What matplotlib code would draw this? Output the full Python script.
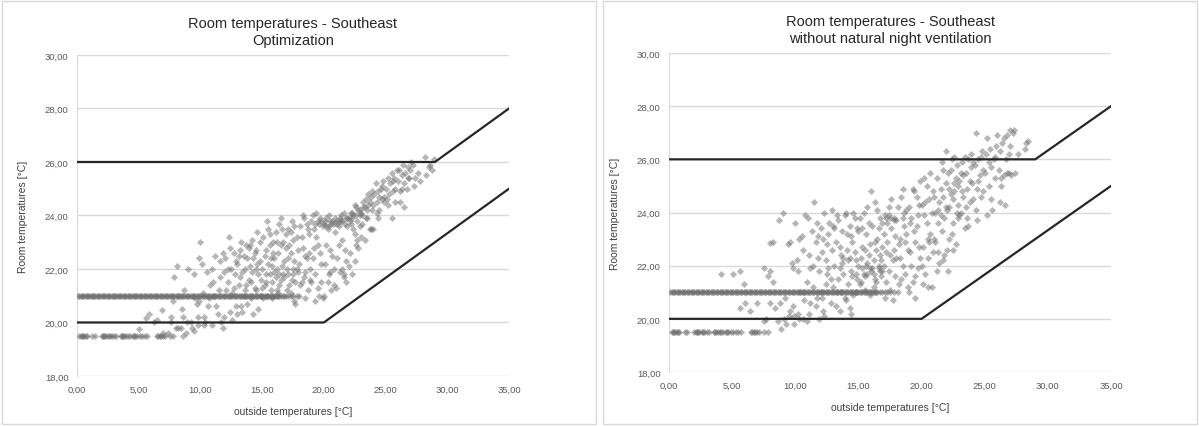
import matplotlib
matplotlib.use('Agg')
import matplotlib.pyplot as plt
from matplotlib.patches import Rectangle
from matplotlib.ticker import FuncFormatter

plt.rcParams['font.family'] = ['Liberation Sans', 'DejaVu Sans']

# comfort band limits
lower_x = [0, 20, 35]
lower_y = [20, 20, 25]
upper_x = [0, 29, 35]
upper_y = [26, 26, 28]

# dense rows of points (night setpoints)
row21_x = [0.1, 0.2, 0.3, 0.4, 0.5, 0.6, 0.7, 0.8, 0.9, 1.0, 1.1, 1.2, 1.3, 1.4, 1.5, 1.6,
           1.7, 1.8, 1.9, 2.0, 2.1, 2.2, 2.3, 2.4, 2.5, 2.6, 2.7, 2.8, 2.9, 3.0, 3.1, 3.2,
           3.3, 3.4, 3.5, 3.6, 3.7, 3.8, 3.9, 4.0, 4.1, 4.2, 4.3, 4.4, 4.5, 4.6, 4.7, 4.8,
           4.9, 5.0, 5.1, 5.2, 5.3, 5.4, 5.5, 5.6, 5.7, 5.8, 5.9, 6.0, 6.1, 6.2, 6.3, 6.4,
           6.5, 6.6, 6.7, 6.8, 6.9, 7.0, 7.1, 7.2, 7.3, 7.4, 7.5, 7.6, 7.7, 7.8, 7.9, 8.0,
           8.1, 8.2, 8.3, 8.4, 8.5, 8.6, 8.7, 8.8, 8.9, 9.0, 9.1, 9.2, 9.3, 9.4, 9.5, 9.6,
           9.7, 9.8, 9.9, 10.0, 10.1, 10.2, 10.3, 10.4, 10.5, 10.6, 10.7, 10.8, 10.9, 11.0,
           11.1, 11.2, 11.3, 11.4, 11.5, 11.6, 11.7, 11.8, 11.9, 12.0, 12.1, 12.2, 12.3,
           12.4, 12.5, 12.6, 12.7, 12.8, 12.9, 13.0, 13.1, 13.2, 13.3, 13.4, 13.5, 13.6,
           13.7, 13.8, 13.9, 14.0, 14.1, 14.2, 14.3, 14.4, 14.5, 14.6, 14.7, 14.8, 14.9,
           15.0, 15.1, 15.2, 15.3, 15.4, 15.5, 15.6, 15.7, 15.8, 15.9, 16.0, 16.1, 16.2,
           16.3, 16.4, 16.5, 16.7, 16.9, 17.1, 17.3, 17.5, 17.8]
row195_x = [0.2, 0.3, 0.4, 0.5, 0.6, 0.7, 0.8, 1.25, 1.45, 2.0, 2.1, 2.2, 2.3, 2.4, 2.6,
            2.7, 2.8, 3.0, 3.2, 3.55, 3.65, 3.75, 3.85, 4.0, 4.15, 4.3, 4.5, 4.6, 4.7,
            4.9, 5.1, 5.3, 5.5, 5.7, 6.5, 6.6, 6.7, 6.8, 6.95, 7.1, 7.5, 7.8]

# Optimization: remaining points (outside temp, room temp)
opt_pts = [
    (5.0, 19.75), (5.6, 20.15), (5.8, 20.3), (6.2, 20.0), (6.5, 20.1), (6.9, 20.45), (7.0, 19.6),
    (7.4, 19.6), (7.6, 20.0), (7.8, 20.8), (7.9, 21.7), (8.0, 19.8), (7.6, 20.2),
    (8.1, 22.1), (8.3, 21.0), (8.4, 19.8), (8.5, 20.5), (8.6, 20.2), (8.7, 21.2), (8.8, 19.6),
    (8.9, 20.0), (8.6, 19.5), (8.2, 19.8),
    (9.0, 22.0), (9.2, 20.0), (9.3, 19.8), (9.5, 21.8), (9.6, 20.9), (9.8, 20.2), (9.9, 22.4),
    (9.5, 19.7), (9.8, 19.9), (9.9, 20.8), (9.7, 20.7),
    (10.0, 23.0), (10.1, 22.2), (10.2, 21.1), (10.3, 20.2), (10.5, 21.9), (10.6, 20.6), (10.3, 19.9),
    (10.8, 21.4), (10.9, 19.9), (10.4, 20.0), (10.7, 20.9), (10.9, 22.0),
    (11.0, 21.5), (11.2, 22.5), (11.3, 20.6), (11.5, 21.2), (11.6, 22.3), (11.7, 20.0), (11.8, 19.8),
    (11.9, 21.9), (11.4, 20.3), (11.9, 20.2), (11.1, 21.0), (11.6, 21.7), (11.8, 22.6),
    (12.0, 22.4), (12.2, 21.5), (12.3, 23.2), (12.4, 20.4), (12.5, 22.0), (12.6, 21.1), (12.7, 22.6),
    (12.8, 21.8), (12.9, 20.6), (12.1, 21.2), (12.4, 22.8), (12.6, 20.1), (12.9, 22.3), (12.2, 22.0),
    (12.7, 21.3),
    (13.0, 22.2), (13.1, 21.4), (13.2, 22.7), (13.3, 20.6), (13.4, 21.9), (13.5, 22.5), (13.6, 21.2),
    (13.7, 22.9), (13.8, 20.7), (13.9, 21.6), (13.0, 20.3), (13.3, 23.0), (13.5, 21.0), (13.8, 22.4),
    (13.2, 21.7), (13.6, 22.0), (13.9, 22.8), (13.4, 20.4), (13.1, 22.5), (13.7, 21.4),
    (14.0, 22.1), (14.1, 21.5), (14.2, 23.1), (14.3, 20.3), (14.4, 22.6), (14.5, 21.2), (14.6, 23.4),
    (14.7, 21.8), (14.8, 22.3), (14.9, 21.0), (14.0, 22.9), (14.2, 21.9), (14.4, 21.3), (14.6, 22.2),
    (14.8, 23.0), (14.3, 22.4), (14.7, 20.5), (14.5, 22.7), (14.9, 21.6), (14.1, 20.9), (14.5, 22.0),
    (15.0, 22.0), (15.1, 23.2), (15.2, 21.4), (15.3, 22.7), (15.4, 21.0), (15.5, 23.5), (15.6, 21.8),
    (15.7, 22.4), (15.8, 20.9), (15.9, 23.0), (15.0, 21.3), (15.2, 22.5), (15.4, 23.8), (15.6, 22.9),
    (15.8, 21.5), (15.1, 20.9), (15.3, 21.8), (15.5, 22.2), (15.7, 21.2), (15.9, 22.6), (15.6, 23.3),
    (15.3, 21.5), (15.8, 22.1),
    (16.0, 21.9), (16.1, 23.4), (16.2, 21.2), (16.3, 22.6), (16.4, 23.7), (16.5, 21.6), (16.6, 22.1),
    (16.7, 23.0), (16.8, 21.0), (16.9, 22.8), (16.0, 22.4), (16.2, 23.0), (16.4, 21.4), (16.6, 23.5),
    (16.8, 22.3), (16.1, 21.7), (16.3, 21.1), (16.5, 22.9), (16.7, 21.8), (16.9, 23.3), (16.5, 23.9),
    (16.2, 22.0), (16.4, 21.8), (16.8, 21.7),
    (17.0, 22.0), (17.1, 23.5), (17.2, 21.4), (17.3, 22.6), (17.4, 23.8), (17.5, 21.8), (17.6, 22.3),
    (17.7, 20.7), (17.8, 23.2), (17.9, 21.9), (17.0, 21.2), (17.2, 22.9), (17.4, 21.6), (17.6, 23.6),
    (17.8, 22.0), (17.1, 22.4), (17.3, 21.1), (17.5, 23.1), (17.7, 21.5), (17.9, 22.7), (17.6, 20.8),
    (17.3, 23.4), (17.1, 21.8), (17.5, 22.0),
    (18.0, 22.2), (18.1, 23.6), (18.2, 21.5), (18.3, 22.8), (18.4, 23.9), (18.5, 21.9), (18.6, 22.4),
    (18.7, 21.2), (18.8, 23.3), (18.9, 22.0), (18.0, 21.0), (18.2, 23.2), (18.4, 21.7), (18.6, 23.7),
    (18.8, 22.6), (18.1, 21.4), (18.3, 24.0), (18.5, 22.5), (18.7, 23.5), (18.9, 21.6), (18.5, 20.9),
    (19.0, 23.8), (19.1, 22.4), (19.2, 23.5), (19.3, 21.8), (19.4, 24.1), (19.5, 22.9), (19.6, 21.0),
    (19.7, 23.9), (19.8, 22.2), (19.9, 20.9), (19.0, 21.5), (19.2, 22.8), (19.4, 23.2), (19.6, 23.7),
    (19.8, 21.5), (19.1, 24.0), (19.3, 20.8), (19.5, 23.8), (19.7, 22.6), (19.9, 23.6), (19.5, 21.3),
    (19.3, 23.7), (19.8, 23.8),
    (20.0, 23.7), (20.1, 22.2), (20.2, 23.9), (20.3, 21.5), (20.4, 23.6), (20.5, 22.7), (20.6, 21.2),
    (20.7, 23.8), (20.8, 22.0), (20.9, 23.4), (20.0, 21.0), (20.2, 22.9), (20.4, 24.0), (20.6, 23.7),
    (20.8, 21.4), (20.1, 23.8), (20.3, 23.5), (20.5, 21.9), (20.7, 22.5), (20.9, 23.9), (20.4, 21.8),
    (20.5, 23.8), (20.8, 23.7), (20.2, 23.6),
    (21.0, 23.8), (21.1, 22.4), (21.2, 23.6), (21.3, 21.9), (21.4, 24.0), (21.5, 23.1), (21.6, 21.7),
    (21.7, 23.7), (21.8, 22.3), (21.9, 23.9), (21.0, 21.3), (21.2, 22.9), (21.4, 23.8), (21.6, 24.1),
    (21.8, 21.5), (21.1, 23.7), (21.3, 23.9), (21.5, 22.0), (21.7, 22.7), (21.9, 23.6), (21.6, 21.8),
    (21.5, 23.8), (21.8, 23.9), (21.2, 23.8),
    (22.0, 23.9), (22.1, 22.6), (22.2, 23.7), (22.3, 21.8), (22.4, 24.0), (22.5, 23.3), (22.6, 22.9),
    (22.7, 23.8), (22.8, 24.2), (22.9, 23.6), (22.0, 22.1), (22.2, 24.1), (22.4, 23.5), (22.6, 24.3),
    (22.8, 22.8), (22.1, 23.8), (22.3, 23.9), (22.5, 24.4), (22.7, 23.1), (22.9, 24.0), (22.5, 22.3),
    (22.3, 24.1), (22.6, 24.0), (22.9, 24.2),
    (23.0, 24.1), (23.1, 23.7), (23.2, 24.3), (23.3, 23.1), (23.4, 24.6), (23.5, 23.9), (23.6, 24.4),
    (23.7, 23.5), (23.8, 24.7), (23.9, 24.2), (23.0, 23.2), (23.2, 24.5), (23.4, 23.9), (23.6, 24.8),
    (23.8, 23.5), (23.1, 24.0), (23.5, 24.2), (23.7, 24.5), (23.9, 24.9), (23.3, 24.3),
    (24.0, 24.4), (24.1, 24.8), (24.2, 25.2), (24.3, 24.5), (24.4, 24.9), (24.5, 24.2), (24.6, 25.0),
    (24.7, 24.6), (24.8, 25.3), (24.9, 24.7), (24.0, 23.5), (24.3, 24.1), (24.5, 24.7), (24.7, 25.1),
    (24.9, 24.5), (24.4, 23.9),
    (25.0, 25.0), (25.1, 24.6), (25.2, 25.4), (25.3, 24.8), (25.4, 25.2), (25.5, 25.6), (25.6, 24.9),
    (25.7, 25.4), (25.8, 25.0), (25.9, 25.7), (25.2, 24.4), (25.5, 23.9), (25.8, 24.5), (25.6, 25.3),
    (26.0, 25.3), (26.1, 25.7), (26.2, 24.9), (26.3, 25.5), (26.4, 25.9), (26.5, 25.2), (26.6, 25.6),
    (26.7, 25.0), (26.8, 25.8), (26.9, 25.4), (26.2, 24.5), (26.5, 24.3), (26.8, 25.4), (26.3, 25.0),
    (27.0, 25.7), (27.2, 25.9), (27.4, 25.4), (27.6, 25.6), (27.8, 25.3), (27.1, 26.0), (27.3, 25.1),
    (28.2, 26.2), (28.3, 25.5), (28.6, 25.9), (28.8, 25.7), (28.9, 26.1), (28.5, 25.8),
]

# without natural night ventilation: remaining points
nonv_pts = [
    (4.1, 21.7), (5.1, 21.7), (5.6, 21.8), (5.9, 21.3), (5.6, 20.4), (6.0, 20.6), (6.4, 20.3),
    (7.0, 20.6), (7.5, 21.9), (7.8, 21.6), (8.0, 21.8), (8.2, 21.4), (8.0, 22.85), (8.2, 22.9),
    (7.7, 20.0), (7.5, 19.9), (8.0, 20.6), (8.4, 20.4), (8.6, 19.9),
    (8.7, 23.7), (9.0, 24.0), (9.4, 22.8), (9.6, 22.9), (9.7, 22.1), (9.8, 21.9), (8.8, 20.6),
    (8.9, 19.6), (9.1, 20.0), (9.3, 19.8), (9.5, 20.1), (9.6, 20.3), (9.8, 20.5), (9.9, 19.8),
    (9.2, 20.8), (9.9, 20.1),
    (10.0, 23.6), (10.1, 22.2), (10.2, 20.2), (10.3, 20.0), (10.4, 21.0), (10.5, 23.1), (10.6, 22.6),
    (10.7, 20.7), (10.8, 23.9), (10.9, 21.4), (10.3, 23.0), (10.6, 20.0), (10.9, 19.9), (10.2, 21.8),
    (10.7, 21.0),
    (11.0, 23.8), (11.1, 22.4), (11.2, 20.6), (11.3, 23.3), (11.4, 21.2), (11.5, 24.4), (11.6, 22.9),
    (11.7, 20.8), (11.8, 23.1), (11.9, 21.8), (11.1, 20.2), (11.4, 22.0), (11.7, 23.6), (11.9, 20.0),
    (11.2, 21.9), (11.6, 20.5), (11.8, 22.3),
    (12.0, 23.4), (12.1, 22.5), (12.2, 20.3), (12.3, 24.0), (12.4, 21.3), (12.5, 22.8), (12.6, 21.9),
    (12.7, 23.6), (12.8, 20.6), (12.9, 24.1), (12.0, 21.0), (12.2, 23.0), (12.4, 22.2), (12.6, 23.2),
    (12.8, 21.5), (12.1, 20.8), (12.5, 21.7), (12.9, 22.6), (12.3, 20.1),
    (13.0, 23.5), (13.1, 22.0), (13.2, 20.5), (13.3, 23.9), (13.4, 21.5), (13.5, 22.7), (13.6, 21.0),
    (13.7, 23.3), (13.8, 22.3), (13.9, 20.8), (13.0, 21.2), (13.2, 22.9), (13.4, 23.7), (13.6, 22.4),
    (13.8, 21.7), (13.1, 23.4), (13.3, 21.0), (13.5, 20.3), (13.7, 22.1), (13.9, 23.9), (13.5, 21.9),
    (14.0, 24.0), (14.1, 22.6), (14.2, 21.3), (14.3, 23.5), (14.4, 21.8), (14.5, 22.9), (14.6, 20.9),
    (14.7, 23.8), (14.8, 22.2), (14.9, 21.5), (14.0, 20.7), (14.2, 22.2), (14.4, 23.1), (14.6, 24.0),
    (14.8, 21.0), (14.1, 23.2), (14.3, 20.4), (14.5, 21.6), (14.7, 22.5), (14.9, 23.4), (14.4, 20.2),
    (14.3, 22.3), (14.8, 21.7),
    (15.0, 22.0), (15.1, 23.8), (15.2, 21.4), (15.3, 22.7), (15.4, 24.0), (15.5, 21.1), (15.6, 23.2),
    (15.7, 21.7), (15.8, 22.4), (15.9, 20.9), (15.0, 23.3), (15.2, 22.3), (15.4, 21.7), (15.6, 22.0),
    (15.8, 23.6), (15.1, 21.3), (15.3, 23.4), (15.5, 22.6), (15.7, 24.2), (15.9, 21.9), (15.5, 21.6),
    (15.9, 22.8), (15.3, 21.9), (15.7, 22.1),
    (16.0, 21.8), (16.1, 23.5), (16.2, 22.2), (16.3, 24.4), (16.4, 21.4), (16.5, 23.0), (16.6, 22.0),
    (16.7, 23.8), (16.8, 21.6), (16.9, 22.7), (16.0, 24.8), (16.2, 21.2), (16.4, 22.6), (16.6, 23.4),
    (16.8, 22.2), (16.1, 21.9), (16.3, 21.5), (16.5, 24.1), (16.7, 21.8), (16.9, 23.6), (16.3, 22.9),
    (16.7, 22.4), (16.2, 21.7), (16.6, 21.9), (16.9, 21.8),
    (17.0, 22.0), (17.1, 23.9), (17.2, 21.4), (17.3, 22.9), (17.4, 24.2), (17.5, 21.1), (17.6, 23.4),
    (17.7, 22.2), (17.8, 23.7), (17.9, 21.6), (17.0, 23.2), (17.2, 22.5), (17.4, 21.8), (17.6, 24.5),
    (17.8, 22.6), (17.1, 20.8), (17.3, 23.6), (17.5, 22.4), (17.7, 20.7), (17.9, 23.1), (17.5, 23.8),
    (17.2, 23.8), (17.4, 23.9), (17.8, 23.8),
    (18.0, 22.3), (18.1, 24.2), (18.2, 21.3), (18.3, 23.0), (18.4, 24.6), (18.5, 22.0), (18.6, 23.5),
    (18.7, 21.7), (18.8, 24.1), (18.9, 22.6), (18.0, 23.7), (18.2, 22.8), (18.4, 21.5), (18.6, 24.0),
    (18.8, 23.2), (18.1, 21.0), (18.3, 22.3), (18.5, 23.8), (18.7, 22.9), (18.9, 21.2), (18.5, 24.9),
    (19.0, 24.2), (19.1, 22.5), (19.2, 23.8), (19.3, 21.4), (19.4, 24.8), (19.5, 22.9), (19.6, 23.5),
    (19.7, 21.9), (19.8, 24.3), (19.9, 22.3), (19.0, 21.0), (19.2, 22.0), (19.4, 23.3), (19.6, 24.6),
    (19.8, 22.7), (19.1, 23.6), (19.3, 24.9), (19.5, 21.6), (19.7, 23.9), (19.9, 25.2), (19.5, 20.8),
    (20.0, 24.3), (20.1, 22.7), (20.2, 23.9), (20.3, 21.7), (20.4, 25.0), (20.5, 22.3), (20.6, 24.5),
    (20.7, 23.2), (20.8, 21.2), (20.9, 24.8), (20.0, 22.0), (20.2, 25.3), (20.4, 23.6), (20.6, 22.9),
    (20.8, 24.0), (20.1, 21.3), (20.3, 24.4), (20.5, 23.0), (20.7, 25.5), (20.9, 22.5), (20.5, 21.2),
    (21.0, 24.6), (21.1, 22.9), (21.2, 25.3), (21.3, 23.6), (21.4, 22.1), (21.5, 24.9), (21.6, 23.3),
    (21.7, 25.6), (21.8, 22.4), (21.9, 24.2), (21.0, 23.0), (21.2, 21.8), (21.4, 24.4), (21.6, 25.9),
    (21.8, 23.8), (21.1, 24.0), (21.3, 22.5), (21.5, 23.9), (21.7, 22.2), (21.9, 25.1), (21.9, 26.3),
    (21.3, 24.1), (21.7, 24.6),
    (22.0, 24.1), (22.1, 25.5), (22.2, 23.0), (22.3, 24.7), (22.4, 26.0), (22.5, 23.6), (22.6, 25.1),
    (22.7, 22.8), (22.8, 25.8), (22.9, 24.3), (22.0, 22.6), (22.2, 24.9), (22.4, 23.2), (22.6, 26.1),
    (22.8, 24.0), (22.1, 21.8), (22.3, 25.6), (22.5, 24.5), (22.7, 25.3), (22.9, 23.8), (22.5, 22.6),
    (22.2, 24.2), (22.6, 24.8), (22.9, 25.0),
    (23.0, 25.2), (23.1, 24.0), (23.2, 25.9), (23.3, 24.6), (23.4, 23.4), (23.5, 25.5), (23.6, 24.9),
    (23.7, 26.0), (23.8, 24.4), (23.9, 25.7), (23.0, 23.9), (23.2, 24.8), (23.4, 26.1), (23.6, 23.8),
    (23.8, 25.2), (23.1, 25.5), (23.5, 24.2), (23.7, 23.5), (23.9, 26.2), (23.3, 25.4),
    (24.0, 25.1), (24.1, 24.5), (24.2, 25.8), (24.3, 27.0), (24.4, 24.9), (24.5, 26.0), (24.6, 25.4),
    (24.7, 24.6), (24.8, 26.3), (24.9, 25.6), (24.1, 25.9), (24.3, 24.1), (24.5, 25.2), (24.7, 26.1),
    (24.9, 24.8), (24.4, 23.7),
    (25.0, 25.5), (25.1, 26.2), (25.2, 26.8), (25.3, 25.0), (25.4, 26.4), (25.5, 25.7), (25.6, 24.1),
    (25.7, 26.0), (25.8, 25.3), (25.9, 26.5), (25.2, 23.9), (25.5, 24.5), (25.8, 26.1), (25.3, 25.9),
    (26.0, 26.9), (26.1, 25.6), (26.2, 26.3), (26.3, 25.0), (26.4, 26.6), (26.5, 25.4), (26.6, 24.3),
    (26.7, 26.0), (26.8, 25.5), (26.9, 26.2), (26.2, 24.4), (26.5, 26.8), (26.8, 26.9), (26.3, 25.3),
    (27.0, 27.1), (27.2, 27.0), (27.3, 27.1), (27.0, 26.5), (27.1, 25.4), (27.4, 25.5), (27.6, 26.2),
    (28.2, 26.4), (28.3, 26.6), (28.4, 26.7), (26.9, 25.5),
]

panels = [
    ('Room temperatures - Southeast\nOptimization', opt_pts, [0.0642, 0.1171, 0.3603, 0.7518]),
    ('Room temperatures - Southeast\nwithout natural night ventilation', nonv_pts, [0.5580, 0.1265, 0.3686, 0.7470]),
]

fig = plt.figure(figsize=(11.99, 4.27), dpi=100)

# chart frames like in Excel
for x0 in [0.002, 0.503]:
    fig.patches.append(Rectangle((x0, 0.004), 0.495, 0.992, transform=fig.transFigure,
                                 fill=False, edgecolor='#d9d9d9', linewidth=1))

fmt = FuncFormatter(lambda v, p: f'{v:.2f}'.replace('.', ','))

for title, pts, pos in panels:
    ax = fig.add_axes(pos)
    xs = [p[0] for p in pts] + row21_x + row195_x
    ys = [p[1] for p in pts] + [21.0] * len(row21_x) + [19.5] * len(row195_x)
    ax.scatter(xs, ys, marker='D', s=13, color='#6e6e6e', alpha=0.5, linewidths=0, zorder=3)
    ax.plot(lower_x, lower_y, color='#262626', linewidth=1.6, zorder=4)
    ax.plot(upper_x, upper_y, color='#262626', linewidth=1.6, zorder=4)

    ax.set_xlim(0, 35)
    ax.set_ylim(18, 30)
    ax.set_xticks([0, 5, 10, 15, 20, 25, 30, 35])
    ax.set_yticks([18, 20, 22, 24, 26, 28, 30])
    ax.xaxis.set_major_formatter(fmt)
    ax.yaxis.set_major_formatter(fmt)
    ax.tick_params(length=0, labelsize=6.8, labelcolor='#595959', pad=6)
    ax.grid(axis='y', color='#d9d9d9', linewidth=1)
    ax.set_axisbelow(True)
    for s in ['top', 'right', 'bottom']:
        ax.spines[s].set_visible(False)
    ax.spines['left'].set_color('#d9d9d9')
    ax.set_xlabel('outside temperatures [°C]', fontsize=7.5, color='#404040', labelpad=9)
    ax.set_ylabel('Room temperatures [°C]', fontsize=7.5, color='#404040', labelpad=12)
    ax.set_title(title, fontsize=10.5, color='#262626', pad=8, linespacing=1.25)

plt.savefig('out.png', dpi=100)
